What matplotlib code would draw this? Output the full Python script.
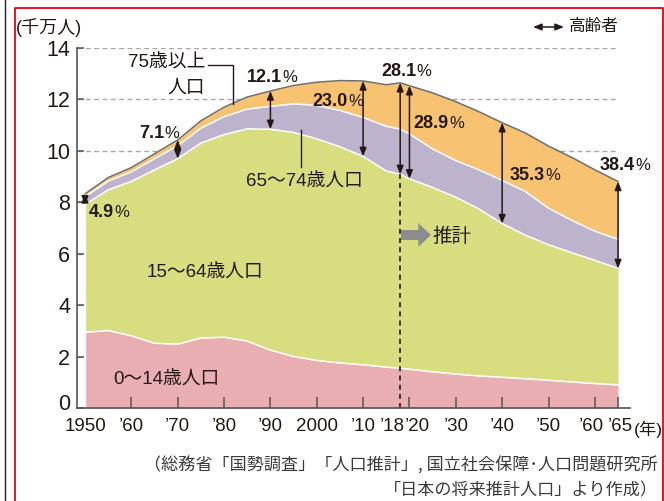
import matplotlib
matplotlib.use('Agg')
import matplotlib.pyplot as plt
from matplotlib.lines import Line2D
import matplotlib.transforms as mtransforms
import numpy as np

# ---------------- data (units: 10 million people) ----------------
years = [1950, 1955, 1960, 1965, 1970, 1975, 1980, 1985, 1990, 1995, 2000, 2005,
         2010, 2015, 2018, 2020, 2025, 2030, 2035, 2040, 2045, 2050, 2055, 2060, 2065]
age_0_14 = [2.943, 3.012, 2.807, 2.517, 2.482, 2.722, 2.751, 2.603, 2.249, 2.001, 1.847, 1.752,
            1.680, 1.589, 1.542, 1.507, 1.407, 1.321, 1.246, 1.194, 1.138, 1.077, 1.012, 0.951, 0.898]
age_15_64 = [4.966, 5.473, 6.005, 6.744, 7.212, 7.581, 7.884, 8.251, 8.590, 8.716, 8.622, 8.409,
             8.103, 7.629, 7.545, 7.406, 7.170, 6.875, 6.494, 5.978, 5.584, 5.275, 5.028, 4.793, 4.529]
age_65_74 = [0.309, 0.338, 0.374, 0.438, 0.506, 0.582, 0.698, 0.770, 0.892, 1.109, 1.301, 1.412,
             1.517, 1.740, 1.760, 1.747, 1.497, 1.428, 1.522, 1.681, 1.698, 1.417, 1.260, 1.133, 1.133]
age_75_plus = [0.106, 0.139, 0.164, 0.189, 0.224, 0.284, 0.366, 0.471, 0.597, 0.717, 0.900, 1.160,
               1.419, 1.613, 1.798, 1.872, 2.180, 2.288, 2.260, 2.239, 2.277, 2.417, 2.446, 2.387, 2.248]

elderly_years = [1950, 1970, 1990, 2010, 2018, 2020, 2040, 2065]
elderly_pct = ['4.9', '7.1', '12.1', '23.0', '28.1', '28.9', '35.3', '38.4']

xtick_pos = [1950, 1960, 1970, 1980, 1990, 2000, 2010, 2018, 2020, 2030, 2040, 2050, 2060, 2065]
xtick_labels = ['1950', '’60', '’70', '’80', '’90', '2000', '’10', '’18', '’20', '’30', '’40',
                '’50', '’60', '’65']
ytick_pos = [0, 2, 4, 6, 8, 10, 12, 14]
projection_start = 2018

# ---------------- styling ----------------
W, H = 664, 501
C_CHILD = '#E9AEB1'
C_WORK = '#D8DD80'
C_YOLD = '#BDB3CD'
C_OLD = '#F7C272'
TXT = '#231815'
AXC = '#555555'
LAT = ['Liberation Sans', 'DejaVu Sans']
CJK = ['Noto Sans CJK JP', 'DejaVu Sans']
MIX = ['Liberation Sans', 'Noto Sans CJK JP']

plt.rcParams['font.family'] = CJK

fig = plt.figure(figsize=(W / 100, H / 100), dpi=100)


def P(x, y):
    return (x / W, 1 - y / H)


# axes box in pixels
AX_L, AX_R, AX_T, AX_B = 77, 630, 48, 408
ax = fig.add_axes([AX_L / W, 1 - AX_B / H, (AX_R - AX_L) / W, (AX_B - AX_T) / H])
px_per_year = 4.635
x1950 = 85
ax.set_xlim(1950 - (x1950 - AX_L) / px_per_year, 1950 + (AX_R - x1950) / px_per_year)
ax.set_ylim(0, 14)

yrs = np.array(years)
c1 = np.array(age_0_14)
c2 = c1 + np.array(age_15_64)
c3 = c2 + np.array(age_65_74)
c4 = c3 + np.array(age_75_plus)

# gridlines behind
ax.hlines(ytick_pos[1:], ax.get_xlim()[0], 2065, colors='#a8a8a8', linewidth=1.0,
          linestyles=(0, (3.5, 2.5)), zorder=0)

ax.fill_between(yrs, 0, c1, color=C_CHILD, lw=0, zorder=1)
ax.fill_between(yrs, c1, c2, color=C_WORK, lw=0, zorder=1)
ax.fill_between(yrs, c2, c3, color=C_YOLD, lw=0, zorder=1)
ax.fill_between(yrs, c3, c4, color=C_OLD, lw=0, zorder=1)
for c in (c1, c2, c3):
    ax.plot(yrs, c, color='white', lw=1.1, zorder=2, solid_joinstyle='round')
ax.plot(yrs, c4, color='#6e6e6e', lw=1.1, zorder=2, solid_joinstyle='round')
ax.plot([1950, 1950], [0, c4[0]], color='white', lw=1.0, zorder=2)

# projection line
ax.plot([projection_start, projection_start], [0, np.interp(projection_start, yrs, c2)],
        color=TXT, lw=1.2, ls=(0, (3, 2.5)), zorder=3)

# elderly arrows
for yr in elderly_years:
    top = np.interp(yr, yrs, c4)
    bot = np.interp(yr, yrs, c2)
    ax.annotate('', xy=(yr, bot), xytext=(yr, top),
                arrowprops=dict(arrowstyle='<|-|>,head_length=0.5,head_width=0.2',
                                color=TXT, lw=1.1, shrinkA=0, shrinkB=0, mutation_scale=10),
                zorder=4)

# percent labels: (split x, center y) in pixels
pct_pos = [(114, 212), (164, 133), (282, 78), (348, 101), (416, 71), (449, 123), (545, 175), (635, 165)]
for (sx, sy), pct in zip(pct_pos, elderly_pct):
    fig.text(*P(sx, sy), pct, ha='right', va='center', fontsize=13, fontweight='bold',
             family=LAT, color=TXT)
    fig.text(*P(sx + 0.5, sy), '%', ha='left', va='center', fontsize=12,
             family=LAT, color=TXT)

# spines and ticks
for s in ('top', 'right'):
    ax.spines[s].set_visible(False)
for s in ('left', 'bottom'):
    ax.spines[s].set_color(AXC)
    ax.spines[s].set_linewidth(1.2)
ax.spines['left'].set_zorder(5)
ax.spines['bottom'].set_zorder(5)

ax.set_yticks(ytick_pos)
ax.set_yticklabels([str(v) for v in ytick_pos])
ax.tick_params(axis='y', direction='in', length=5, width=1.1, color=AXC, pad=5,
               labelsize=15.5, labelcolor=TXT)
ax.set_xticks(xtick_pos)
ax.set_xticklabels(xtick_labels)
ax.tick_params(axis='x', direction='in', length=8, width=1.1, color=AXC, pad=7,
               labelsize=13.5, labelcolor=TXT)
for lbl in ax.get_xticklabels() + ax.get_yticklabels():
    lbl.set_family(LAT)

# hide tick marks at 1950 and 2018
for t, p in zip(ax.xaxis.get_major_ticks(), xtick_pos):
    if p in (1950, projection_start):
        t.tick1line.set_visible(False)
# nudge crowded labels (pixel shifts)
lbls = ax.get_xticklabels()
shifts = [0, 0, 0, 0, 0, 0, 0, -8, 8, 0, 0, 0, -3, 2]
for lbl, dx in zip(lbls, shifts):
    if dx:
        lbl.set_transform(lbl.get_transform() + mtransforms.Affine2D().translate(dx, 0))
for lbl in ax.get_yticklabels():
    if lbl.get_text() == '0':
        lbl.set_transform(lbl.get_transform() + mtransforms.Affine2D().translate(0, 6))

fig.text(*P(634, 429), '(年)', ha='left', va='center', fontsize=12.5,
         family=MIX, color=TXT)

# unit label
fig.text(*P(16, 28), '(千万人)', ha='left', va='center', fontsize=13, family=MIX, color=TXT)

# legend
fig.add_artist(matplotlib.patches.FancyArrowPatch(P(533, 27), P(564, 27), transform=fig.transFigure,
               arrowstyle='<|-|>,head_length=0.5,head_width=0.2', mutation_scale=10,
               color=TXT, lw=1.1, shrinkA=0, shrinkB=0))
fig.text(*P(569, 27), '高齢者', ha='left', va='center', fontsize=12, family=CJK, color=TXT)

# area labels
fig.text(*P(205, 63), '75歳以上', ha='right', va='center', fontsize=13.5, family=MIX, color=TXT)
fig.text(*P(205, 88), '人口', ha='right', va='center', fontsize=13.5, family=MIX, color=TXT)
fig.add_artist(Line2D([208 / W, 233 / W, 233 / W], [1 - 65 / H, 1 - 65 / H, 1 - 104 / H],
                      color=TXT, lw=1.0))
fig.text(*P(246, 182), '65〜74歳人口', ha='left', va='center', fontsize=13.5, family=MIX, color=TXT)
fig.add_artist(Line2D([301 / W, 301 / W], [1 - 130 / H, 1 - 167 / H], color=TXT, lw=1.0))
fig.text(*P(147, 273), '15〜64歳人口', ha='left', va='center', fontsize=13.5, family=MIX, color=TXT)
fig.text(*P(113, 380), '0〜14歳人口', ha='left', va='center', fontsize=13.5, family=MIX, color=TXT)

# projection marker
fig.add_artist(matplotlib.patches.FancyArrowPatch(P(401, 235), P(431, 235), transform=fig.transFigure,
               arrowstyle='simple,head_length=0.7,head_width=1.3,tail_width=0.55',
               mutation_scale=13, color='#8c8c8c', lw=0, shrinkA=0, shrinkB=0))
fig.text(*P(432, 236), '推計', ha='left', va='center', fontsize=14, family=CJK, color=TXT)

# source
fig.text(*P(658, 465), '（総務省「国勢調査」「人口推計」, 国立社会保障･人口問題研究所',
         ha='right', va='center', fontsize=12.3, family=CJK, color='#3a3a3a')
fig.text(*P(658, 490), '「日本の将来推計人口」より作成）',
         ha='right', va='center', fontsize=12.3, family=CJK, color='#3a3a3a')

# frame lines
fig.add_artist(Line2D([5 / W, 5 / W], [0, 1], color='#222222', lw=1.0))
fig.add_artist(Line2D([15 / W, 15 / W, 663 / W, 663 / W], [0, 1 - 8 / H, 1 - 8 / H, 0],
                      color='#E60012', lw=1.3))

fig.savefig('out.png', dpi=100)
